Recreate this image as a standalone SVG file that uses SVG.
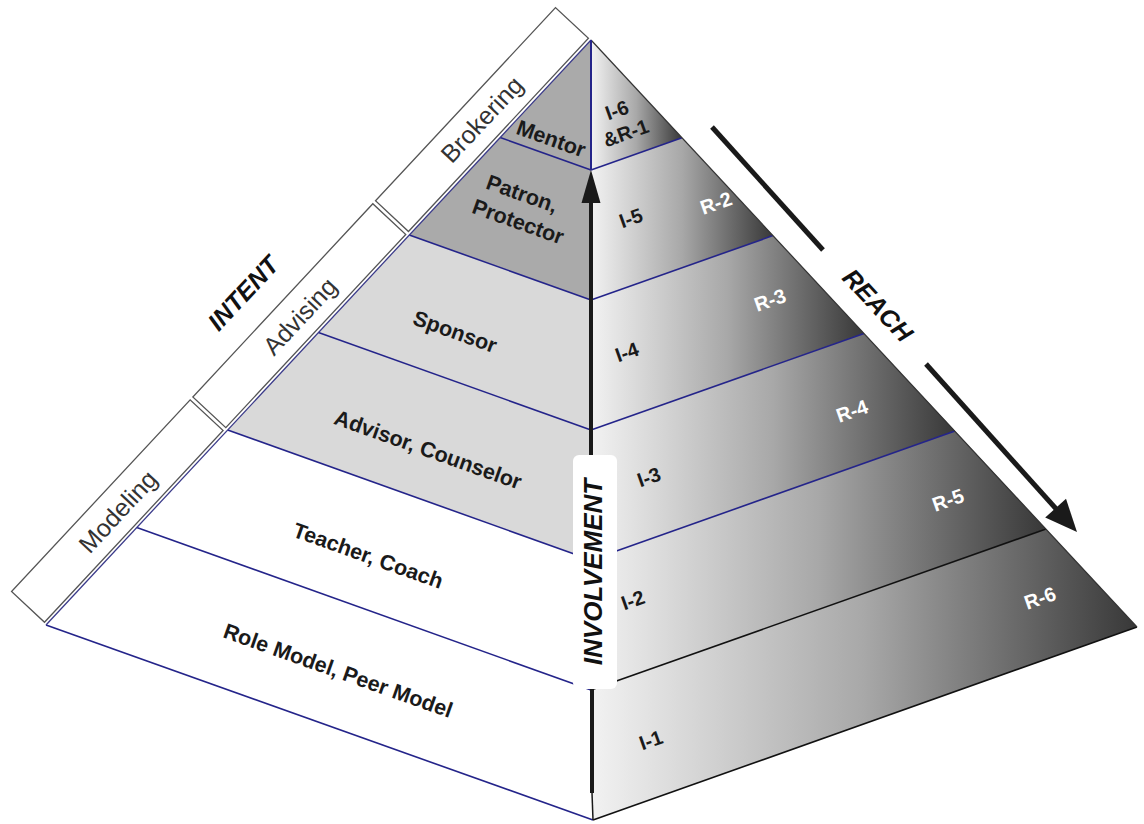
<svg xmlns="http://www.w3.org/2000/svg" width="1144" height="824" viewBox="0 0 1144 824">
<style>
.lbl{font-family:"Liberation Sans",Arial,sans-serif;font-weight:bold;font-size:21.5px;fill:#1a1a1a;text-anchor:middle;dominant-baseline:central}
.il{font-family:"Liberation Sans",Arial,sans-serif;font-weight:bold;font-size:20px;fill:#1a1a1a;text-anchor:middle;dominant-baseline:central}
.rl{font-family:"Liberation Sans",Arial,sans-serif;font-weight:bold;font-size:20px;fill:#ffffff;text-anchor:middle;dominant-baseline:central}
.box{fill:#ffffff;stroke:#555;stroke-width:1.3}
.boxt{font-family:"Liberation Sans",Arial,sans-serif;font-size:25px;fill:#333;text-anchor:middle;dominant-baseline:central}
.axis{font-family:"Liberation Sans",Arial,sans-serif;font-weight:bold;font-style:italic;font-size:25px;fill:#111;text-anchor:middle;dominant-baseline:central}
.sep{stroke:#24248a;stroke-width:1.6;fill:none}
.sepk{stroke:#111;stroke-width:1.6;fill:none}
.gray{fill:#aaaaaa}
.lgray{fill:#d9d9d9}
.white{fill:#ffffff}
.rface{fill:url(#rg)}
.arrow{stroke:#1a1a1a;fill:none}
</style>
<defs>
<linearGradient id="rg" x1="0" y1="0" x2="1" y2="0">
<stop offset="0" stop-color="#f2f2f2"/>
<stop offset="0.5" stop-color="#a8a8a8"/>
<stop offset="1" stop-color="#383838"/>
</linearGradient>
</defs>
<rect width="1144" height="824" fill="#ffffff"/>

<!-- side labels (intent) -->
<g id="intent-boxes" transform="translate(46,625) rotate(-47.03)">
<g id="box-modeling"><rect class="box" x="1" y="-48" width="262" height="45"/><text class="boxt" x="132" y="-25">Modeling</text></g>
<g id="box-advising"><rect class="box" x="267" y="-48" width="264" height="45"/><text class="boxt" x="399" y="-25">Advising</text></g>
<g id="box-brokering"><rect class="box" x="535" y="-48" width="264" height="45"/><text class="boxt" x="667" y="-26">Brokering</text></g>
</g>
<text id="intent" class="axis" transform="translate(243,293) rotate(-47)">INTENT</text>

<!-- left face bands -->
<g id="band-mentor"><polygon class="gray" points="591,40 500.2,137.5 591,170"/><text class="lbl" transform="translate(551,139) rotate(19.6)">Mentor</text></g>
<g id="band-patron"><polygon class="gray" points="591,170 500.2,137.5 409.3,235 591,300"/><text class="lbl" transform="translate(522,194) rotate(19.6)">Patron,</text><text class="lbl" transform="translate(518,222) rotate(19.6)">Protector</text></g>
<g id="band-sponsor"><polygon class="lgray" points="591,300 409.3,235 318.5,332.5 591,430"/><text class="lbl" transform="translate(455,332) rotate(19.6)">Sponsor</text></g>
<g id="band-advisor"><polygon class="lgray" points="591,430 318.5,332.5 227.7,430 591,560"/><text class="lbl" transform="translate(428,450) rotate(19.6)">Advisor, Counselor</text></g>
<g id="band-teacher"><polygon class="white" points="591,560 227.7,430 136.8,527.5 591,690"/><text class="lbl" transform="translate(368,556) rotate(19.6)">Teacher, Coach</text></g>
<g id="band-role"><polygon class="white" points="591,690 136.8,527.5 46,625 592,820"/><text class="lbl" transform="translate(338,671) rotate(19.6)">Role Model, Peer Model</text></g>

<!-- right face bands -->
<g id="band-r1"><polygon class="rface" points="591,40 682,137.8 591,170"/><text class="il" transform="translate(617,110) rotate(-19.6)">I-6</text><text class="il" transform="translate(626,133) rotate(-19.6)">&amp;R-1</text></g>
<g id="band-r2"><polygon class="rface" points="591,170 682,137.8 773,235.6 591,300"/><text class="il" transform="translate(631,218) rotate(-19.6)">I-5</text><text class="rl" transform="translate(716,203) rotate(-19.6)">R-2</text></g>
<g id="band-r3"><polygon class="rface" points="591,300 773,235.6 864,333.4 591,430"/><text class="il" transform="translate(627,352) rotate(-19.6)">I-4</text><text class="rl" transform="translate(770,300) rotate(-19.6)">R-3</text></g>
<g id="band-r4"><polygon class="rface" points="591,430 864,333.4 955,431 591,560"/><text class="il" transform="translate(649,477) rotate(-19.6)">I-3</text><text class="rl" transform="translate(852,411) rotate(-19.6)">R-4</text></g>
<g id="band-r5"><polygon class="rface" points="591,560 955,431 1046,529 591,690"/><text class="il" transform="translate(633,600) rotate(-19.6)">I-2</text><text class="rl" transform="translate(948,500) rotate(-19.6)">R-5</text></g>
<g id="band-r6"><polygon class="rface" points="591,690 1046,529 1137,627 593,820"/><text class="il" transform="translate(651,740) rotate(-19.6)">I-1</text><text class="rl" transform="translate(1040,598) rotate(-19.6)">R-6</text></g>

<!-- connectors / edges -->
<g id="connectors">
<line class="sep" x1="500.2" y1="137.5" x2="591" y2="170"/>
<line class="sep" x1="409.3" y1="235" x2="591" y2="300"/>
<line class="sep" x1="318.5" y1="332.5" x2="591" y2="430"/>
<line class="sep" x1="227.7" y1="430" x2="591" y2="560"/>
<line class="sep" x1="136.8" y1="527.5" x2="591" y2="690"/>
<line class="sep" x1="46" y1="625" x2="593" y2="820"/>
<line class="sep" x1="591" y1="170" x2="682" y2="137.8"/>
<line class="sep" x1="591" y1="300" x2="773" y2="235.6"/>
<line class="sep" x1="591" y1="430" x2="864" y2="333.4"/>
<line class="sep" x1="591" y1="560" x2="955" y2="431"/>
<line class="sepk" x1="591" y1="690" x2="1046" y2="529"/>
<line class="sepk" x1="593" y1="820" x2="1137" y2="627"/>
<line x1="591" y1="40" x2="1137" y2="627" stroke="#333" stroke-width="1.2"/>
<line x1="591" y1="40" x2="46" y2="625" stroke="#3a3a8a" stroke-width="1.3"/>
<line x1="591" y1="40" x2="591" y2="170" stroke="#24248a" stroke-width="2"/>
<!-- involvement arrow -->
<line class="arrow" x1="591" y1="198" x2="591" y2="460" stroke-width="4"/>
<polygon points="591,170 581.5,203 600.5,203" fill="#1a1a1a"/>
<line class="arrow" x1="592" y1="688" x2="592" y2="793" stroke-width="4"/>
<line class="arrow" x1="592" y1="793" x2="593" y2="820" stroke-width="1.5"/>
<!-- reach arrows -->
<line class="arrow" x1="712" y1="127" x2="823" y2="250" stroke-width="5"/>
<line class="arrow" x1="926" y1="364" x2="1058" y2="511" stroke-width="5"/>
<polygon points="1077,532 1066,498.8 1045.2,517.6" fill="#1a1a1a"/>
</g>

<g id="involvement-label">
<rect x="573" y="455" width="44" height="234" rx="6" fill="#ffffff"/>
<text class="axis" transform="translate(593,572) rotate(-90)" style="font-size:26px">INVOLVEMENT</text>
</g>
<text id="reach" class="axis" transform="translate(878,305) rotate(47)">REACH</text>
</svg>
